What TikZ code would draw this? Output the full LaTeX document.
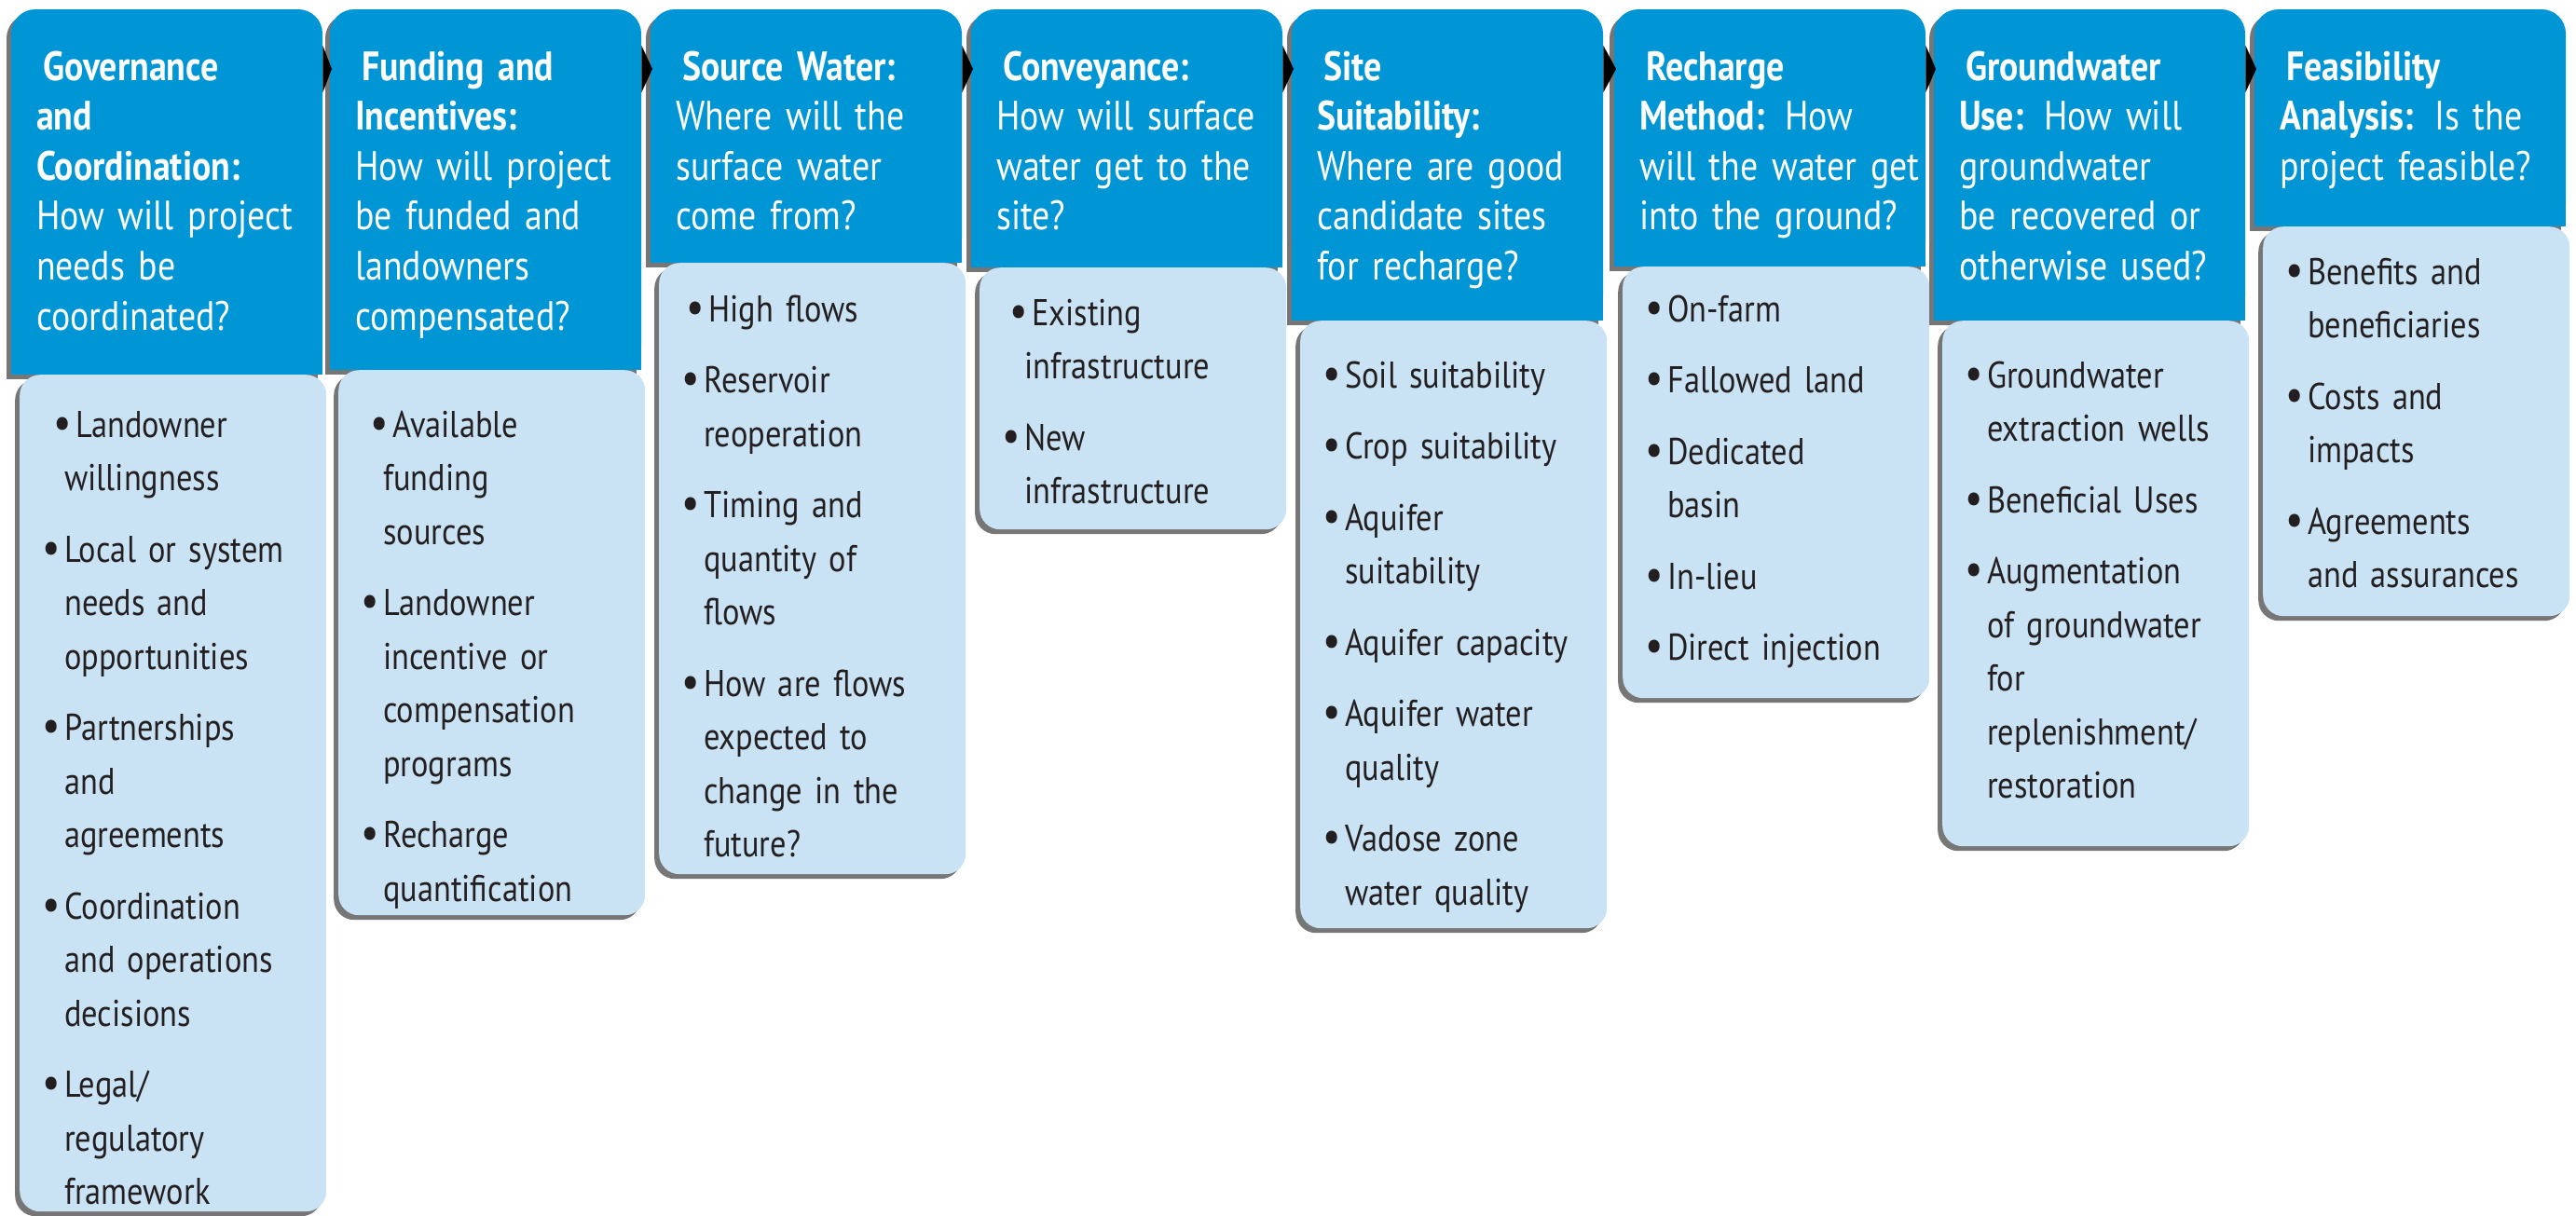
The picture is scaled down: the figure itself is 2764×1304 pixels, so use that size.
\documentclass[tikz,border=0pt]{standalone}
\usepackage{fontspec}
\setmainfont{PT Sans}[FakeStretch=0.86]
\usetikzlibrary{shadows,calc}
\definecolor{hdrblue}{RGB}{0,150,214}
\definecolor{bodyblue}{RGB}{201,226,244}
\definecolor{shadowgrey}{RGB}{118,118,118}
\definecolor{txtdark}{RGB}{35,31,32}
\tikzset{
  hdrbox/.style={anchor=north west, minimum width=334pt, inner sep=0pt},
  bodybox/.style={anchor=north west, minimum width=329pt, inner sep=0pt, fill=bodyblue,
    rounded corners=22pt,
    drop shadow={shadow xshift=-5pt, shadow yshift=-5pt, opacity=1, fill=shadowgrey}},
  hdrtext/.style={anchor=base west, inner sep=0pt, text width=312pt, align=left, text=white,
    font=\fontsize{44}{53.6}\selectfont},
  bodytext/.style={anchor=base west, inner sep=0pt, text width=300pt, align=left, text=txtdark,
    font=\fontsize{40}{57.5}\selectfont},
  arrowtip/.style={fill=black},
}
\newcommand\nl{\newline}
\newcommand\mybul{\makebox[24pt][l]{\raisebox{-1pt}{\fontsize{50}{0}\selectfont\textbullet}}}
\newcommand\myfirst[2][0pt]{\noindent\hangindent=24pt\hangafter=1\hspace*{#1}\mybul#2}
\newcommand\myitem[1]{\par\vskip19pt\noindent\hangindent=24pt\hangafter=1\mybul#1}
\newcommand\hfirst{\hspace*{7pt}}
% #1 name, #2 left, #3 header bottom, #4 body bottom, #5 header text, #6 body text, #7 first baseline offset
\newcommand\stage[7]{%
  \fill[shadowgrey, rounded corners=26pt] (#2-5,15) rectangle (#2+329,#3+5);
  \fill[shadowgrey] (#2-5,45) rectangle (#2+329,#3+5);
  \fill[hdrblue, rounded corners=26pt] (#2,10) rectangle (#2+334,#3);
  \fill[hdrblue] (#2,40) rectangle (#2+334,#3);
  \node[hdrbox, minimum height={(#3-10)*1pt}] (#1h) at (#2,10) {};
  \node[bodybox, minimum height={(#4-#3)*1pt}] (#1b) at (#2+9,#3) {};
  \node[hdrtext] (#1t) at (#2+27,86) {#5};
  \node[bodytext] (#1l) at (#2+33,#3+#7) {#6\par};
}
\begin{document}
\begin{tikzpicture}[x=1pt,y=-1pt]
\useasboundingbox (0,0) rectangle (2764,1304);
\fill[white] (0,0) rectangle (2764,1304);

\stage{a}{12}{402}{1300}
 {\hfirst\textbf{Governance}\\ \textbf{and}\\ \textbf{Coordination:}\\ How will project\\ needs be\\ coordinated?}
 {\myfirst[12pt]{Landowner\nl willingness}
  \myitem{Local or system\nl needs and\nl opportunities}
  \myitem{Partnerships\nl and\nl agreements}
  \myitem{Coordination\nl and operations\nl decisions}
  \myitem{Legal/\nl regulatory\nl framework}}{67}

\stage{b}{354}{397}{982}
 {\hfirst\textbf{Funding and}\\ \textbf{Incentives:}\\ How will project\\ be funded and\\ landowners\\ compensated?}
 {\myfirst[10pt]{Available\nl funding\nl sources}
  \myitem{Landowner\nl incentive or\nl compensation\nl programs}
  \myitem{Recharge\nl quantification}}{72}

\stage{c}{698}{282}{938}
 {\hfirst\textbf{Source Water:}\\ Where will the\\ surface water\\ come from?}
 {\myfirst[5pt]{High flows}
  \myitem{Reservoir\nl reoperation}
  \myitem{Timing and\nl quantity of\nl flows}
  \myitem{How are flows\nl expected to\nl change in the\nl future?}}{63}

\stage{d}{1042}{287}{568}
 {\hfirst\textbf{Conveyance:}\\ How will surface\\ water get to the\\ site?}
 {\myfirst[8pt]{Existing\nl infrastructure}
  \myitem{New\nl infrastructure}}{62}

\stage{e}{1386}{344}{996}
 {\hfirst\textbf{Site}\\ \textbf{Suitability:}\\ Where are good\\ candidate sites\\ for recharge?}
 {\myfirst{Soil suitability}
  \myitem{Crop suitability}
  \myitem{Aquifer\nl suitability}
  \myitem{Aquifer capacity}
  \myitem{Aquifer water\nl quality}
  \myitem{Vadose zone\nl water quality}}{72}

\stage{f}{1732}{286}{749}
 {\hfirst\textbf{Recharge}\\ \textbf{Method:} How\\ will the water get\\ into the ground?}
 {\myfirst{On-farm}
  \myitem{Fallowed land}
  \myitem{Dedicated\nl basin}
  \myitem{In-lieu}
  \myitem{Direct injection}}{59}

\stage{g}{2075}{344}{908}
 {\hfirst\textbf{Groundwater}\\ \textbf{Use:} How will\\ groundwater\\ be recovered or\\ otherwise used?}
 {\myfirst{Groundwater\nl extraction wells}
  \myitem{Beneficial Uses}
  \myitem{Augmentation\nl of groundwater\nl for\nl replenishment/\nl restoration}}{72}

\stage{h}{2419}{243}{661}
 {\hfirst\textbf{Feasibility}\\ \textbf{Analysis:} Is the\\ project feasible?}
 {\myfirst{Benefits and\nl beneficiaries}
  \myitem{Costs and\nl impacts}
  \myitem{Agreements\nl and assurances}}{62}

\foreach \p/\q in {a/b,b/c,c/d,d/e,e/f,f/g,g/h}{
  \fill[arrowtip] ($(\p h.north east)+(0,39)$) -- ($(\q h.north west)+(2,64)$) -- ($(\p h.north east)+(0,89)$) -- cycle;
}
\end{tikzpicture}
\end{document}
